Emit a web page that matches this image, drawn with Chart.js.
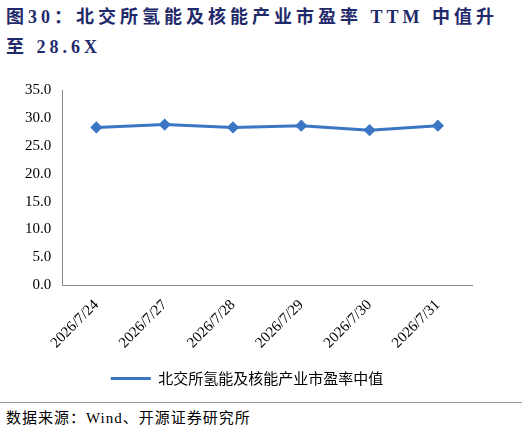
<!DOCTYPE html>
<html><head><meta charset="utf-8">
<script src="https://cdn.jsdelivr.net/npm/chart.js@4"></script>
<style>
body{margin:0;width:522px;height:436px;background:#fff;position:relative;overflow:hidden;font-family:"Liberation Serif","Noto Sans CJK SC",serif}
.title{position:absolute;left:6px;top:2px;width:512px;color:#1F2A6B;font-weight:bold;font-size:18px;line-height:30px;letter-spacing:4px;font-family:"Liberation Serif","Noto Sans CJK SC",serif}
.box{position:absolute;left:0;top:78px;width:522px;height:318px}
.src{position:absolute;left:6px;top:406px;font-size:15px;color:#000;letter-spacing:1px;font-family:"Liberation Serif","Noto Sans CJK SC",serif}
.rule{position:absolute;left:0;top:402px;width:522px;border-top:1px solid #999}
</style></head><body>
<div class="title">图30：北交所氢能及核能产业市盈率 TTM 中值升至 28.6X</div>
<div class="box"><canvas id="c"></canvas></div>
<div class="rule"></div>
<div class="src">数据来源：Wind、开源证券研究所</div>
<script>
const labels = ["2026/7/24","2026/7/27","2026/7/28","2026/7/29","2026/7/30","2026/7/31"];
const values = [28.3, 28.8, 28.3, 28.6, 27.8, 28.6];
const yTicks = [0,5,10,15,20,25,30,35];
const seriesName = "北交所氢能及核能产业市盈率中值";
const blue = "#3A76C4";
new Chart(document.getElementById("c"), {
  type: "line",
  data: { labels: labels, datasets: [{ label: seriesName, data: values, borderColor: blue, backgroundColor: blue,
    borderWidth: 3, pointStyle: "rectRot", pointRadius: 4, pointBackgroundColor: blue }] },
  options: {
    responsive: true, maintainAspectRatio: false, animation: false,
    layout: { padding: { left: 22, right: 50, top: 6 } },
    scales: {
      x: { offset: true, grid: { display: false }, border: { color: "#888" },
        ticks: { color: "#000", maxRotation: 45, minRotation: 45, font: { size: 15, family: "Liberation Serif" } } },
      y: { min: 0, max: 35, grid: { display: false }, border: { color: "#888" },
        afterBuildTicks: (a) => { a.ticks = yTicks.map(v => ({ value: v })); },
        ticks: { color: "#000", callback: v => v.toFixed(1), font: { size: 15, family: "Liberation Serif" } } }
    },
    plugins: { legend: { position: "bottom", labels: { color: "#000", font: { size: 15, family: "Noto Sans CJK SC" }, boxWidth: 40, boxHeight: 3, padding: 16,
      generateLabels: (ch) => [{ text: seriesName, fillStyle: blue, strokeStyle: blue, lineWidth: 0, datasetIndex: 0 }] } } }
  }
});
</script></body></html>
